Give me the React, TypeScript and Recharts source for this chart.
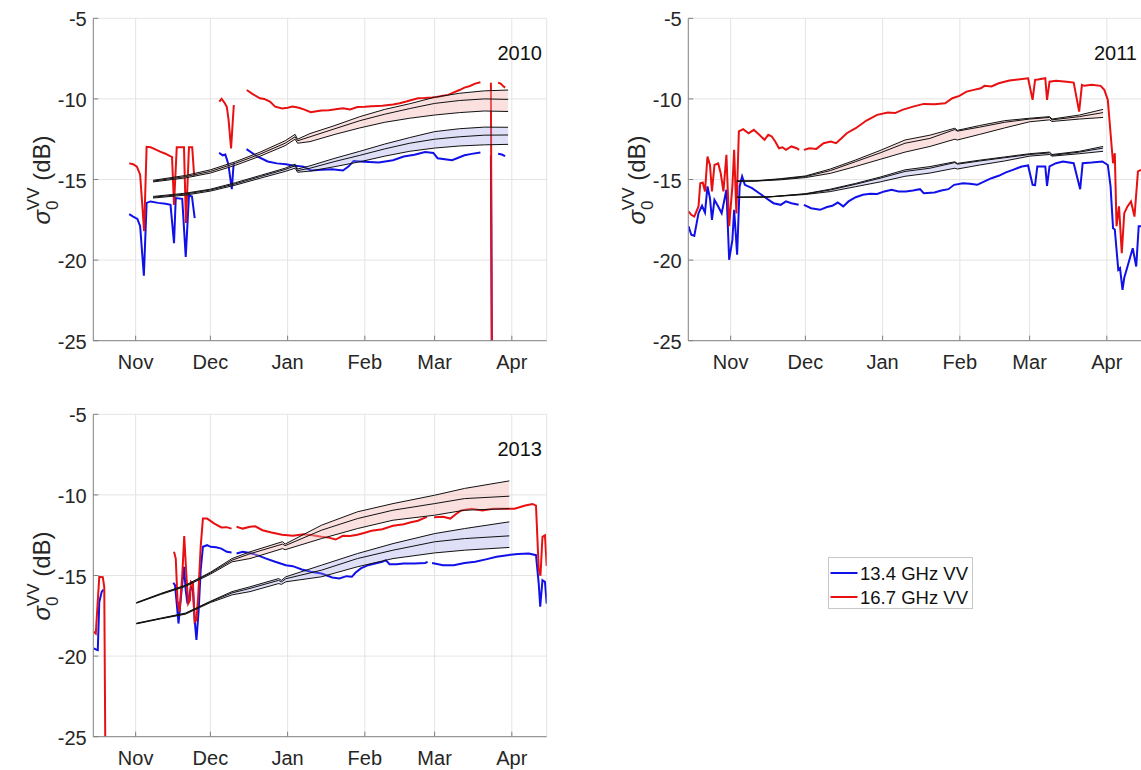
import { ComposedChart, Line, Area, XAxis, YAxis, CartesianGrid } from "recharts";

type Pt = [number, number] | null;
type BandRow = [number, number, number, number];

const MONTH_TICKS = [0, 30, 61, 92, 120, 151];
const MONTH_LABELS = ["Nov", "Dec", "Jan", "Feb", "Mar", "Apr"];
const DB_TICKS = [-25, -20, -15, -10, -5];

const BLUE = "#1010e8";
const RED = "#e81010";
const FONT = "'Liberation Sans', Arial, Helvetica, sans-serif";

// days counted from Nov 1; null = gap in the record
const ku13_2010: Pt[] = [
  [-2.6, -17.15], [-1, -17.3], [0.7, -17.45], [1.8, -17.9], [3.3, -20.97], [4.4, -16.45], [6, -16.36], [9, -16.45],
  [12, -16.5], [14, -16.57], [15.4, -18.95], [16.1, -16.15], [18.7, -16.2], [20.1, -19.8], [21.4, -16.0], [22.6, -16.05],
  [23.7, -17.4], null,
  [33.5, -13.35], [35, -13.5], [36, -13.45], [37.2, -14.05], [38.6, -15.6], [39.3, -14.1], [39.6, -13.95], null,
  [44.5, -13.12], [48.8, -13.57], [53, -13.88], [56.7, -14.0], [60.3, -14.05], [63.1, -14.13], [67.4, -14.2], [70.3, -14.44],
  [74.6, -14.4], [78.9, -14.36], [83.2, -14.44], [85.4, -14.2], [87.5, -13.86], [91.8, -13.9], [97.6, -13.95], [103.3, -13.8],
  [107.6, -13.57], [111.9, -13.47], [116.2, -13.3], [119.5, -13.35], [121.2, -13.68], [124.1, -13.74], [127, -13.8],
  [129, -13.68], [132, -13.5], [134.9, -13.41], [138.4, -13.33], null,
  [142.6, -13.5], [143.1, -30], null,
  [145.5, -13.4], [147, -13.45], [148.3, -13.55],
];

const ku16_2010: Pt[] = [
  [-2.6, -14.0], [-1, -14.05], [0.5, -14.2], [1.8, -14.7], [3.4, -18.2], [4.4, -12.97], [6, -13.0], [7.5, -13.1],
  [9.8, -13.27], [12, -13.4], [13.8, -13.55], [14.6, -13.6], [15.4, -16.58], [16.5, -13.0], [19.4, -13.0], [20.2, -17.7],
  [21.4, -13.0], [22.7, -13.0], [23.5, -14.8], null,
  [33.6, -10.17], [34.5, -10.0], [35.8, -10.27], [36.6, -10.5], [37.3, -11.3], [38.3, -13.07], [39.4, -10.38], null,
  [44.6, -9.45], [47, -9.7], [49.9, -9.96], [51.6, -10.0], [53.9, -10.17], [56, -10.48], [58.8, -10.6], [61, -10.55],
  [63, -10.48], [65.5, -10.55], [67.5, -10.65], [70.3, -10.83], [72, -10.78], [74.6, -10.72], [77.5, -10.7], [80.3, -10.64],
  [83.2, -10.58], [86.1, -10.65], [89, -10.5], [92, -10.48], [94.7, -10.45], [99, -10.42], [103.3, -10.35], [106, -10.27],
  [109, -10.15], [113.3, -9.96], [116, -9.95], [119, -9.92], [121, -9.88], [123.4, -9.81], [125.5, -9.75], [127.7, -9.6],
  [130, -9.45], [132, -9.3], [134.2, -9.2], [136.3, -9.05], [138.4, -8.97], null,
  [142.6, -9.0], [143.1, -30], null,
  [145.5, -9.0], [146.5, -9.05], [147.5, -9.2], [148.3, -9.3],
];

const ku13_2011: Pt[] = [
  [-16.9, -17.9], [-15.8, -18.43], [-14.6, -18.5], [-12.9, -17.09], [-11.5, -16.63], [-10.3, -17.05], [-9.3, -15.43],
  [-8.3, -16.16], [-7.5, -17.5], [-6.5, -16.26], [-5, -16.67], [-3.6, -17.09], [-1.7, -15.64], [-0.6, -19.98], [0.7, -18.74],
  [1.4, -16.88], [2.6, -19.67], [3.6, -15.43], [4.6, -14.81], [5.7, -15.33], [8.6, -15.54], [11.5, -15.85], [14.3, -16.16],
  [17.2, -16.47], [20.1, -16.57], [22.2, -16.36], [24.4, -16.47], [27.3, -16.57], null,
  [29.4, -16.57], [32.3, -16.78], [35.9, -16.88], [38.7, -16.71], [40.8, -16.63], [43, -16.43], [45.2, -16.67], [47.3, -16.36],
  [50.2, -16.1], [53.1, -15.95], [56, -15.89], [58.8, -15.9], [61.7, -15.74], [64.6, -15.64], [67.4, -15.74], [70.3, -15.74],
  [73.2, -15.68], [76, -15.6], [77.5, -15.85], [81.8, -15.8], [84.6, -15.68], [87.4, -15.6], [89.7, -15.33], [93.3, -15.23],
  [96, -15.27], [99, -15.33], [101.9, -15.12], [104.7, -14.92], [107.6, -14.77], [110.5, -14.56], [113.3, -14.4],
  [116.9, -14.19], [119.4, -14.13], [121.2, -15.33], [122.2, -15.35], [123.1, -14.19], [126.3, -14.19], [127, -15.39],
  [128, -14.19], [130.6, -13.99], [133.4, -13.88], [137.7, -13.99], [140.3, -15.6], [141.3, -13.99], [144.9, -13.95],
  [149.2, -13.88], [151.4, -14.1], [152.5, -15.43], [153.5, -18.02], [154.2, -18.1], [154.9, -19.36], [155.6, -20.6],
  [156.3, -20.5], [157.3, -21.84], [158, -21.1], [159.3, -20.4], [161.4, -19.26], [162.8, -20.4], [163.8, -17.9], [164.8, -17.9],
];

const ku16_2011: Pt[] = [
  [-16.9, -16.98], [-15.8, -17.19], [-14.6, -17.3], [-12.9, -16.67], [-12.2, -15.23], [-11.2, -15.19], [-10.3, -15.74],
  [-9.3, -13.57], [-8.3, -14.1], [-7.5, -15.74], [-6.5, -14.1], [-5, -14.0], [-4, -14.6], [-2.9, -15.74], [-1.7, -13.47],
  [-0.6, -17.9], [0.7, -15.43], [1.4, -13.16], [2.3, -17.1], [3.3, -12.02], [5, -11.88], [7.2, -12.13], [9.3, -11.92],
  [11.5, -12.23], [13.6, -12.54], [15.1, -12.23], [16.5, -12.33], [17.9, -12.64], [19.4, -13.06], [20.8, -13.0],
  [22.2, -13.16], [24.4, -12.95], [26.5, -13.06], [27.5, -13.16], null,
  [29.4, -13.16], [31.6, -13.06], [34.4, -13.1], [37.3, -12.75], [40.2, -12.64], [42.3, -12.75], [44.5, -12.44],
  [46.6, -12.13], [50.2, -11.82], [54.5, -11.34], [58.8, -10.99], [63.1, -10.85], [66, -10.88], [68.9, -10.68],
  [73.2, -10.48], [77.5, -10.31], [81.8, -10.33], [86.1, -10.27], [89, -9.96], [91.8, -9.81], [94.7, -9.55], [97.6, -9.44],
  [100.4, -9.34], [101.9, -9.19], [104.7, -9.23], [107.6, -9.03], [111.9, -8.86], [116.2, -8.78], [119.4, -8.72],
  [121.2, -10.06], [122.2, -8.82], [123.4, -8.8], [126.3, -8.72], [127, -10.06], [128, -8.93], [130.6, -8.88],
  [134.9, -8.93], [137.7, -8.99], [139.9, -10.79], [141, -9.13], [142, -9.19], [144.9, -9.13], [148.5, -9.19], [150, -9.44],
  [151.4, -10.06], [152.5, -12.13], [153.5, -13.99], [154.2, -13.37], [154.9, -17.9], [155.9, -16.67], [157, -19.57],
  [158, -17.09], [159.3, -16.67], [160.7, -16.36], [162.1, -17.3], [163.5, -14.5], [164.8, -14.4],
];

const ku13_2013: Pt[] = [
  [-16.8, -19.52], [-15.8, -19.6], [-15.2, -19.63], [-14.6, -16.65], [-13.6, -16.0], [-12.9, -15.87], null,
  [15.1, -15.45], [15.8, -15.6], [16.5, -16.74], [17.2, -17.98], [18.2, -16.32], [19.4, -14.46], [20.1, -15.91],
  [20.8, -16.74], [21.5, -16.32], [22.2, -15.7], [23, -15.91], [23.7, -17.77], [24.4, -19.0], [25.3, -17.15],
  [26.1, -14.67], [27, -13.22], [28.7, -13.12], [30.1, -13.22], [32.3, -13.25], [34.4, -13.33], [36.6, -13.53],
  [38.5, -13.57], null,
  [40.5, -13.64], [43, -13.53], [45.9, -13.6], [48.8, -13.74], [52.4, -13.95], [56, -14.15], [60.3, -14.36], [63.1, -14.42],
  [66.7, -14.63], [70.3, -14.77], [74.6, -14.88], [78.9, -15.12], [81.8, -15.19], [84.6, -15.04], [86.8, -15.08],
  [88.2, -14.83], [90.4, -14.56], [93.3, -14.36], [96.1, -14.26], [99, -14.15], [100.4, -14.05], [101.9, -14.3],
  [104.7, -14.3], [107.6, -14.26], [111.9, -14.26], [116.2, -14.22], [117.2, -14.15], null,
  [119, -14.22], [123.4, -14.36], [127.7, -14.36], [132, -14.22], [136.3, -14.15], [140.6, -14.0], [144.9, -13.84],
  [149.2, -13.74], [153.5, -13.67], [157.8, -13.64], [160.7, -13.74], [161.8, -15.5], [162.4, -16.94], [163.3, -15.29],
  [164.3, -15.39], [165, -16.74],
];

const ku16_2013: Pt[] = [
  [-16.8, -18.49], [-16, -18.6], [-14.6, -15.08], [-13.2, -15.1], [-12.6, -15.7], [-12.0, -30], null,
  [15.4, -13.53], [16.1, -13.95], [16.8, -16.53], [17.6, -17.25], [18.7, -15.02], [19.5, -12.56], [20.4, -15.08],
  [21.1, -16.74], [21.8, -16.53], [22.2, -15.39], [23, -15.5], [23.7, -17.87], [24.4, -17.77], [25.1, -16.32],
  [26.1, -13.22], [27, -11.47], [28.7, -11.47], [31.6, -11.78], [34.4, -12.02], [36.5, -12.0], [38.5, -12.09], null,
  [40.5, -11.98], [43, -12.09], [45.9, -11.98], [48, -11.95], [50.9, -12.19], [54.5, -12.33], [58.8, -12.47], [63.1, -12.54],
  [67.4, -12.44], [71, -12.5], [74.6, -12.6], [77.5, -12.65], [80.3, -12.77], [83.2, -12.54], [86, -12.55], [89, -12.47],
  [92, -12.35], [94.7, -12.23], [99, -12.13], [103.3, -11.92], [107.6, -11.82], [110.5, -11.7], [113.3, -11.6],
  [116.9, -11.36], null,
  [119.8, -11.38], [123.4, -11.36], [126.3, -11.47], [128.5, -11.2], [130.6, -10.97], [134.9, -10.86], [139.2, -10.97],
  [143.5, -10.86], [147.8, -10.86], [152.1, -10.86], [156.4, -10.66], [159.3, -10.56], [160.7, -10.66], [161.8, -14.6],
  [162.5, -15.02], [163.3, -12.6], [164.3, -12.5], [165, -14.4],
];

// model envelopes: [day, upper, mid, lower]
const band16_2010: BandRow[] = [
  [7, -15.05, -15.1, -15.15], [20, -14.75, -14.82, -14.9], [30, -14.4, -14.5, -14.6], [40, -13.9, -14.0, -14.12],
  [50, -13.3, -13.42, -13.55], [60, -12.6, -12.75, -12.9], [64, -12.2, -12.35, -12.5], [65, -12.5, -12.6, -12.75],
  [70, -12.15, -12.35, -12.65], [80, -11.65, -11.85, -12.2], [90, -11.1, -11.35, -11.8], [100, -10.65, -10.95, -11.45],
  [110, -10.3, -10.6, -11.2], [120, -9.9, -10.28, -11.0], [130, -9.65, -10.1, -10.85], [140, -9.5, -10.0, -10.75],
  [149.5, -9.45, -10.03, -10.78],
];
const band13_2010: BandRow[] = [
  [7, -16.05, -16.1, -16.15], [20, -15.85, -15.9, -15.97], [30, -15.6, -15.65, -15.72], [40, -15.2, -15.27, -15.35],
  [50, -14.75, -14.82, -14.92], [60, -14.3, -14.38, -14.5], [64, -14.05, -14.15, -14.3], [65, -14.35, -14.45, -14.55],
  [70, -14.15, -14.3, -14.48], [80, -13.68, -13.88, -14.2], [90, -13.25, -13.5, -13.9], [100, -12.8, -13.1, -13.55],
  [110, -12.4, -12.75, -13.25], [120, -12.03, -12.5, -13.05], [130, -11.85, -12.35, -12.92], [140, -11.75, -12.25, -12.85],
  [149.5, -11.76, -12.24, -12.82],
];
const band16_2011: BandRow[] = [
  [2.5, -15.1, -15.1, -15.1], [10, -15.08, -15.09, -15.1], [20, -14.95, -14.98, -15.02], [30, -14.78, -14.82, -14.88],
  [40, -14.35, -14.45, -14.62], [50, -13.8, -13.9, -14.2], [60, -13.2, -13.35, -13.75], [70, -12.55, -12.75, -13.3],
  [80, -12.25, -12.45, -12.95], [90, -11.82, -11.9, -12.5], [91, -11.95, -12.0, -12.55], [100, -11.65, -11.75, -12.2],
  [110, -11.35, -11.45, -11.8], [120, -11.2, -11.25, -11.42], [128, -11.1, -11.15, -11.3], [129, -11.25, -11.3, -11.4],
  [140, -11.0, -11.1, -11.25], [149.5, -10.65, -10.85, -11.15],
];
const band13_2011: BandRow[] = [
  [2.5, -16.1, -16.1, -16.1], [15, -16.08, -16.08, -16.09], [30, -15.88, -15.9, -15.93], [40, -15.6, -15.65, -15.75],
  [50, -15.25, -15.3, -15.45], [60, -14.85, -14.92, -15.15], [70, -14.4, -14.5, -14.8], [80, -14.2, -14.3, -14.6],
  [90, -13.9, -13.95, -14.3], [91, -14.0, -14.05, -14.35], [100, -13.8, -13.85, -14.1], [110, -13.6, -13.65, -13.85],
  [120, -13.4, -13.45, -13.55], [128, -13.3, -13.35, -13.45], [129, -13.45, -13.5, -13.55], [140, -13.25, -13.3, -13.4],
  [149.5, -12.95, -13.05, -13.25],
];
const band16_2013: BandRow[] = [
  [0.3, -16.68, -16.7, -16.72], [10, -16.12, -16.15, -16.18], [20, -15.6, -15.64, -15.68], [30, -14.8, -14.85, -14.92],
  [38.7, -13.95, -14.05, -14.15], [45.9, -13.53, -13.65, -13.95], [59, -12.9, -13.05, -13.33], [60, -13.05, -13.15, -13.4],
  [74.6, -11.88, -12.19, -12.71], [89, -11.05, -11.47, -12.09], [103.3, -10.54, -10.95, -11.57], [120, -10.02, -10.54, -11.26],
  [132, -9.6, -10.23, -10.95], [150, -9.13, -10.08, -10.85],
];
const band13_2013: BandRow[] = [
  [0.3, -17.96, -17.98, -18.0], [10, -17.65, -17.67, -17.69], [20, -17.33, -17.36, -17.4], [30, -16.6, -16.63, -16.68],
  [38.7, -16.0, -16.08, -16.2], [45.9, -15.7, -15.8, -16.0], [57.4, -15.19, -15.3, -15.5], [58.5, -15.3, -15.4, -15.55],
  [60.3, -15.08, -15.2, -15.39], [74.6, -14.36, -14.67, -15.08], [89, -13.64, -13.95, -14.46], [103.3, -13.02, -13.43, -13.95],
  [120, -12.4, -12.91, -13.6], [132, -12.09, -12.71, -13.43], [150, -11.67, -12.54, -13.26],
];

const toSeries = (pts: Pt[]) =>
  pts.map((p, i) => {
    if (p) return { day: p[0], v: p[1] };
    const prev = pts[i - 1] as [number, number];
    const next = pts[i + 1] as [number, number];
    return { day: (prev[0] + next[0]) / 2, v: null };
  });

const toBand = (rows: BandRow[]) =>
  rows.map(([day, up, mid, low]) => ({ day, up, mid, low, range: [low, up] }));

const XTick = (props: any) => {
  const { x, y, payload } = props;
  const label = MONTH_LABELS[MONTH_TICKS.indexOf(payload.value)];
  return (
    <g>
      <line x1={x} x2={x} y1={y} y2={y - 5} stroke="#808080" />
      <text x={x} y={y + 28} textAnchor="middle" fontSize={20} fill="#262626" fontFamily={FONT}>
        {label}
      </text>
    </g>
  );
};

const YTick = (props: any) => {
  const { x, y, payload } = props;
  return (
    <g>
      <line x1={x} x2={x + 5} y1={y} y2={y} stroke="#808080" />
      <text x={x - 6.6} y={y + 8} textAnchor="end" fontSize={20} fill="#262626" fontFamily={FONT}>
        {payload.value}
      </text>
    </g>
  );
};

const Panel = ({ left, top, year, ku13, ku16, band13, band16 }: any) => {
  const blueData = toSeries(ku13);
  const redData = toSeries(ku16);
  const b16 = toBand(band16);
  const b13 = toBand(band13);
  return (
    <div style={{ position: "absolute", left, top, width: 560, height: 380 }}>
      <ComposedChart width={560} height={380} margin={{ top: 18.3, right: 13.3, bottom: 9.3, left: 33.3 }}>
        <CartesianGrid stroke="#e4e4e4" />
        <XAxis
          type="number"
          dataKey="day"
          domain={[-17, 165]}
          ticks={MONTH_TICKS}
          interval={0}
          allowDataOverflow
          height={30}
          tickSize={0}
          tickMargin={0}
          tickLine={false}
          axisLine={{ stroke: "#868686" }}
          tick={(p: any) => <XTick {...p} />}
        />
        <YAxis
          type="number"
          domain={[-25, -5]}
          ticks={DB_TICKS}
          interval={0}
          allowDataOverflow
          width={60}
          tickSize={0}
          tickMargin={0}
          tickLine={false}
          axisLine={{ stroke: "#868686" }}
          tick={(p: any) => <YTick {...p} />}
        />
        <Line data={blueData} dataKey="v" stroke={BLUE} strokeWidth={2} dot={false} type="linear" isAnimationActive={false} />
        <Line data={redData} dataKey="v" stroke={RED} strokeWidth={2} dot={false} type="linear" isAnimationActive={false} />
        <Area data={b16} dataKey="range" stroke="none" fill="#f5b5b5" fillOpacity={0.42} type="linear" zIndex={450} isAnimationActive={false} />
        <Area data={b13} dataKey="range" stroke="none" fill="#9a9ae6" fillOpacity={0.32} type="linear" zIndex={450} isAnimationActive={false} />
        {["up", "mid", "low"].map((k) => (
          <Line key={"r" + k} data={b16} dataKey={k} stroke="#111" strokeWidth={1} dot={false} type="linear" zIndex={460} isAnimationActive={false} />
        ))}
        {["up", "mid", "low"].map((k) => (
          <Line key={"b" + k} data={b13} dataKey={k} stroke="#111" strokeWidth={1} dot={false} type="linear" zIndex={460} isAnimationActive={false} />
        ))}
      </ComposedChart>
      <svg width={560} height={380} style={{ position: "absolute", left: 0, top: 0, pointerEvents: "none" }}>
        <text transform="translate(50,180) rotate(-90)" textAnchor="middle" fontSize={24} fill="#262626" fontFamily={FONT}>
          <tspan fontStyle="italic">σ</tspan>
          <tspan fontSize={17} dy={8}>0</tspan>
          <tspan fontSize={17} dx={-9.5} dy={-19}>VV</tspan>
          <tspan dy={11}> (dB)</tspan>
        </text>
        <text x={542} y={60} textAnchor="end" fontSize={20} fill="#111" fontFamily={FONT}>
          {year}
        </text>
      </svg>
    </div>
  );
};

export default function App() {
  return (
    <div style={{ position: "absolute", left: 0, top: 0, width: 1141, height: 770, overflow: "hidden", background: "#fff" }}>
      <Panel left={0} top={0} year="2010" ku13={ku13_2010} ku16={ku16_2010} band13={band13_2010} band16={band16_2010} />
      <Panel left={595} top={0} year="2011" ku13={ku13_2011} ku16={ku16_2011} band13={band13_2011} band16={band16_2011} />
      <Panel left={0} top={395.7} year="2013" ku13={ku13_2013} ku16={ku16_2013} band13={band13_2013} band16={band16_2013} />
      <svg width={146} height={53} style={{ position: "absolute", left: 827.5, top: 556.5 }}>
        <rect x={0.5} y={0.5} width={144} height={51} fill="#fff" stroke="#c8c8c8" />
        <line x1={2.5} x2={29.5} y1={16} y2={16} stroke={BLUE} strokeWidth={2} />
        <text x={32} y={22.8} fontSize={18.5} fill="#111" fontFamily={FONT}>13.4 GHz VV</text>
        <line x1={2.5} x2={29.5} y1={40} y2={40} stroke={RED} strokeWidth={2} />
        <text x={32} y={46.8} fontSize={18.5} fill="#111" fontFamily={FONT}>16.7 GHz VV</text>
      </svg>
    </div>
  );
}
